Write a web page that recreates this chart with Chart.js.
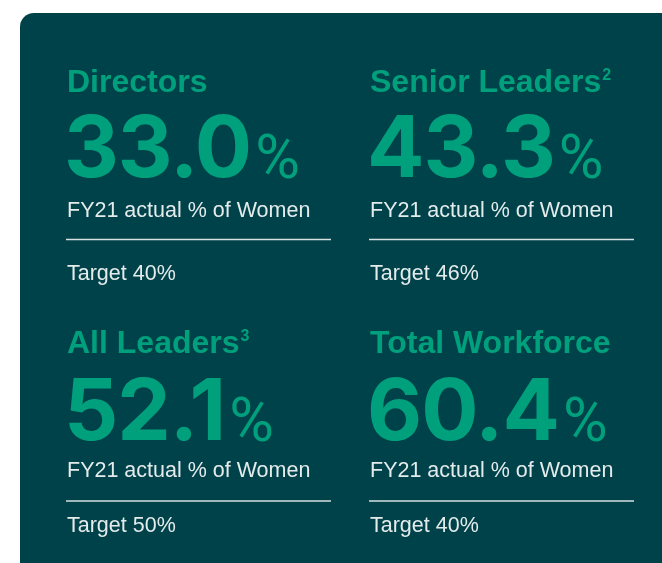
<!DOCTYPE html>
<html>
<head>
<meta charset="utf-8">
<title>Women in leadership FY21</title>
<script src="https://cdn.jsdelivr.net/npm/chart.js@4.4.1/dist/chart.umd.min.js"></script>
<style>
    html, body { margin: 0; padding: 0; background: #ffffff; }
    #board { display: block; }
</style>
</head>
<body>
<canvas id="board" width="662" height="563"></canvas>
<script>
// Data
const categories = ['Directors', 'Senior Leaders', 'All Leaders', 'Total Workforce'];
const footnotes = ['', '2', '3', ''];
const actualValues = [33.0, 43.3, 52.1, 60.4];
const targetValues = [40, 46, 50, 40];
const actualLabel = 'FY21 actual % of Women';
const targetLabel = 'Target';

// Look and layout
const PANEL = '#00424a';
const GREEN = '#00a07d';
const LIGHT = '#e3ebeb';
const RULE = '#d6e0e0';

// offsets from the title baseline, per row (the lower row sits a little tighter)
const rowOffsets = [
    { number: 85, actual: 125, rule: 147.5, target: 188 },
    { number: 87, actual: 124, rule: 148, target: 179 }
];
const ruleWidth = 265;

/**
 * Paint the dark panel behind the tiles
 */
const panelPlugin = {
    id: 'panel',
    beforeDraw(chart) {
        const ctx = chart.ctx;
        ctx.save();
        ctx.fillStyle = '#ffffff';
        ctx.fillRect(0, 0, chart.width, chart.height);
        ctx.fillStyle = PANEL;
        ctx.beginPath();
        ctx.roundRect(20, 13, chart.width + 40, chart.height + 40, 14);
        ctx.fill();
        ctx.restore();
    }
};

/**
 * Draw one stat tile at every point the scatter dataset places
 */
const tilePlugin = {
    id: 'tiles',
    afterDatasetsDraw(chart) {
        const ctx = chart.ctx;
        const meta = chart.getDatasetMeta(0);
        ctx.save();
        ctx.textAlign = 'left';
        ctx.textBaseline = 'alphabetic';

        meta.data.forEach((pt, i) => {
            const x = pt.x;
            const y = pt.y;
            const off = rowOffsets[Math.floor(i / 2)];

            // title + footnote mark
            ctx.fillStyle = GREEN;
            ctx.font = 'bold 32px "Liberation Sans", Arial, sans-serif';
            ctx.fillText(categories[i], x, y);
            if (footnotes[i]) {
                const w = ctx.measureText(categories[i]).width;
                ctx.font = 'bold 16px "Liberation Sans", Arial, sans-serif';
                ctx.fillText(footnotes[i], x + w + 1, y - 12);
            }

            // big number with a lighter percent sign
            const num = actualValues[i].toFixed(1);
            ctx.font = 'bold 85px Inter, "Liberation Sans", sans-serif';
            ctx.letterSpacing = '-1px';
            ctx.fillText(num, x - 3, y + off.number);
            const nw = ctx.measureText(num).width;
            ctx.letterSpacing = '0px';
            ctx.font = '400 61px Roboto, "Liberation Sans", sans-serif';
            ctx.fillText('%', x - 3 + nw + 4, y + off.number + 1);

            // caption
            ctx.fillStyle = LIGHT;
            ctx.font = '21.5px "Liberation Sans", Arial, sans-serif';
            ctx.fillText(actualLabel, x, y + off.actual);

            // rule
            ctx.strokeStyle = RULE;
            ctx.lineWidth = 1.5;
            ctx.beginPath();
            ctx.moveTo(x - 1, y + off.rule);
            ctx.lineTo(x - 1 + ruleWidth, y + off.rule);
            ctx.stroke();

            // target
            ctx.fillStyle = LIGHT;
            ctx.fillText(targetLabel + ' ' + targetValues[i] + '%', x, y + off.target);
        });
        ctx.restore();
    }
};

// tile grid: column 0 -> x 67, column 1 -> x 370; row 0 title baseline 92, row 1 -> 353
const colStep = 303, colStart = 67;
const rowStep = 261, rowStart = 92;

const ctx = document.getElementById('board').getContext('2d');
new Chart(ctx, {
    type: 'scatter',
    data: {
        labels: categories,
        datasets: [{
            label: actualLabel,
            data: actualValues.map((v, i) => ({ x: i % 2, y: Math.floor(i / 2), v: v })),
            pointRadius: 0,
            pointHoverRadius: 0
        }]
    },
    options: {
        responsive: false,
        animation: false,
        layout: { padding: 0 },
        plugins: {
            legend: { display: false },
            tooltip: { enabled: false }
        },
        scales: {
            x: {
                type: 'linear',
                display: false,
                min: -colStart / colStep,
                max: (662 - colStart) / colStep
            },
            y: {
                type: 'linear',
                display: false,
                reverse: true,
                min: -rowStart / rowStep,
                max: (563 - rowStart) / rowStep
            }
        }
    },
    plugins: [panelPlugin, tilePlugin]
});
</script>
</body>
</html>
